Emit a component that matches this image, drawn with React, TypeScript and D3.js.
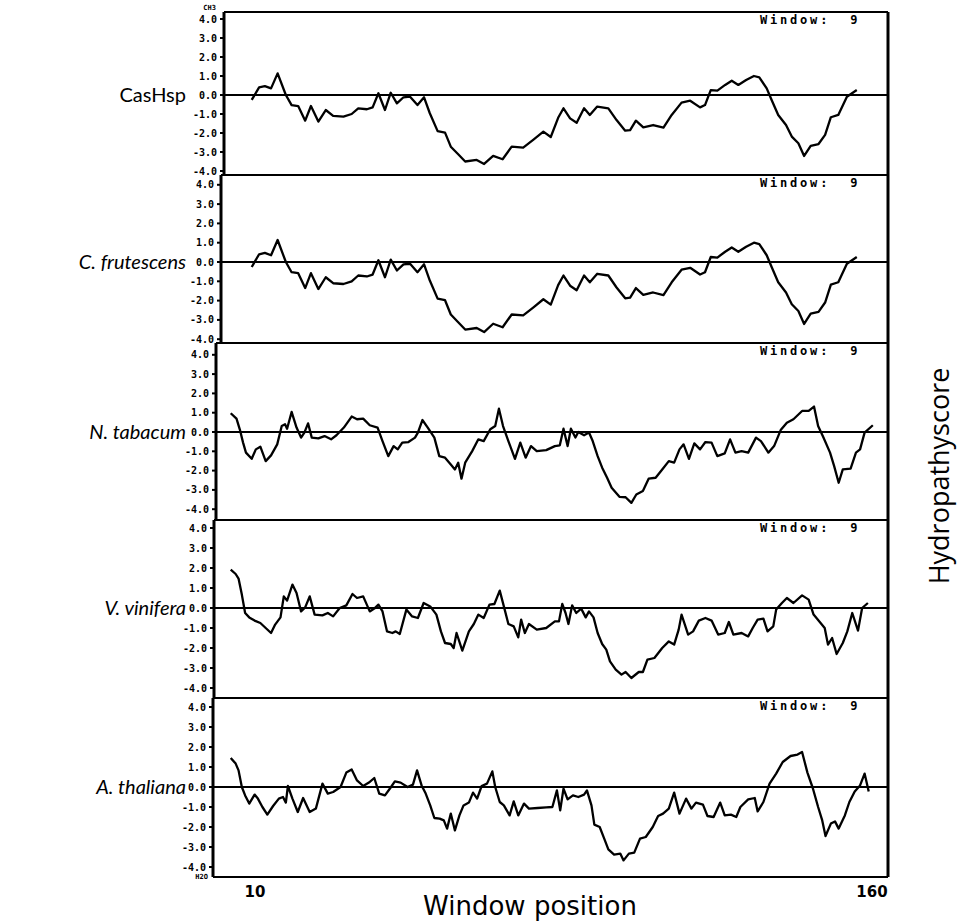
import React from 'react';
import * as d3 from 'd3';

type Pt = [number, number]; // [window position, hydropathy score]

// profiles, one vertex per visible corner of the trace
const casHsp: Pt[] = [
  [9.2, -0.26], [11.0, 0.4], [12.4, 0.47], [13.9, 0.35], [15.5, 1.14], [17.5, 0.0], [18.9, -0.53],
  [20.5, -0.58], [22.2, -1.35], [23.6, -0.58], [25.4, -1.4], [27.2, -0.79], [29.0, -1.1], [31.5, -1.14],
  [33.5, -1.0], [35.1, -0.7], [37.2, -0.75], [38.6, -0.65], [40.0, 0.09], [41.6, -0.79], [43.0, 0.12],
  [44.5, -0.44], [46.1, -0.12], [47.7, -0.09], [49.5, -0.53], [51.1, -0.12], [52.5, -0.96], [54.4, -1.9],
  [56.2, -1.98], [57.6, -2.72], [59.4, -3.12], [61.1, -3.5], [63.9, -3.42], [65.7, -3.63], [67.9, -3.2],
  [70.2, -3.38], [72.4, -2.72], [75.2, -2.77], [77.7, -2.35], [80.1, -1.93], [81.9, -2.21], [83.7, -1.2],
  [85.0, -0.7], [86.6, -1.23], [88.2, -1.46], [90.0, -0.7], [91.4, -1.05], [93.2, -0.61], [95.9, -0.7],
  [97.9, -1.32], [100.0, -1.88], [101.2, -1.85], [102.6, -1.35], [104.4, -1.7], [106.8, -1.58],
  [109.3, -1.72], [111.3, -1.05], [113.7, -0.4], [115.8, -0.3], [118.2, -0.65], [119.4, -0.53],
  [120.8, 0.26], [122.4, 0.23], [124.3, 0.53], [125.9, 0.75], [127.5, 0.53], [129.4, 0.79], [131.3, 1.0],
  [132.6, 0.93], [134.4, 0.35], [135.6, -0.26], [137.2, -1.05], [139.1, -1.58], [140.5, -2.19],
  [142.1, -2.54], [143.5, -3.21], [145.1, -2.68], [147.0, -2.58], [148.6, -2.1], [150.0, -1.17],
  [151.8, -1.05], [153.9, -0.09], [156.3, 0.26],
];

// the C. frutescens trace is the same as CasHsp in the figure
const frutescens: Pt[] = casHsp;

const tabacum: Pt[] = [
  [4.1, 0.97], [5.5, 0.69], [6.3, 0.14], [7.1, -0.55], [7.8, -1.07], [9.2, -1.39], [10.2, -0.9],
  [11.3, -0.76], [12.6, -1.51], [13.9, -1.21], [15.4, -0.64], [16.5, 0.31], [17.3, 0.4], [17.8, 0.17],
  [18.9, 1.04], [20.1, 0.23], [21.2, -0.29], [22.0, -0.03], [22.9, 0.45], [23.8, -0.29], [25.4, -0.33],
  [26.9, -0.21], [28.5, -0.38], [29.8, -0.17], [31.6, 0.23], [33.5, 0.8], [34.8, 0.66], [36.3, 0.69],
  [37.9, 0.35], [39.8, 0.23], [41.0, -0.47], [42.4, -1.25], [43.7, -0.73], [44.7, -0.9], [45.8, -0.55],
  [47.3, -0.52], [48.9, -0.29], [49.6, -0.03], [50.7, 0.62], [52.0, 0.23], [53.6, -0.29], [54.8, -1.25],
  [56.2, -1.33], [57.6, -1.68], [58.6, -1.94], [59.4, -1.59], [60.2, -2.42], [61.1, -1.59], [62.8, -0.99],
  [64.3, -0.38], [65.6, -0.47], [67.2, 0.14], [68.4, 0.31], [69.3, 1.21], [70.3, 0.31], [71.6, -0.47],
  [73.2, -1.39], [74.5, -0.55], [75.8, -1.33], [77.1, -0.73], [78.5, -0.99], [80.8, -0.94], [82.9, -0.73],
  [84.1, -0.69], [85.0, 0.17], [86.0, -0.73], [86.8, 0.17], [87.9, -0.29], [88.6, 0.0], [90.0, -0.17],
  [91.2, -0.03], [92.1, -0.47], [93.3, -1.25], [94.4, -1.85], [95.6, -2.37], [96.7, -2.89], [98.6, -3.36],
  [100.1, -3.38], [101.5, -3.67], [102.7, -3.24], [104.3, -3.06], [105.7, -2.42], [107.4, -2.37],
  [109.0, -1.94], [110.6, -1.51], [111.9, -1.59], [113.2, -0.9], [114.2, -0.64], [115.5, -1.39],
  [116.8, -0.59], [118.2, -0.9], [119.5, -0.52], [121.0, -0.55], [122.4, -1.25], [124.2, -1.11],
  [125.5, -0.38], [126.8, -1.07], [128.3, -0.99], [129.9, -1.07], [131.8, -0.29], [133.0, -0.47],
  [134.8, -1.07], [136.2, -0.73], [137.8, 0.1], [139.3, 0.48], [140.9, 0.66], [143.0, 1.09], [144.6, 1.09],
  [145.9, 1.32], [146.9, 0.31], [148.2, -0.29], [149.8, -1.07], [150.8, -1.77], [151.9, -2.63],
  [152.9, -1.94], [154.8, -1.9], [156.1, -1.07], [157.1, -0.9], [158.2, -0.03], [160.2, 0.35],
];

const vinifera: Pt[] = [
  [4.1, 1.92], [5.3, 1.7], [6.0, 1.47], [6.8, 0.67], [7.6, -0.25], [8.6, -0.47], [9.9, -0.63],
  [11.3, -0.75], [12.6, -1.0], [13.9, -1.25], [14.9, -0.83], [16.2, -0.47], [17.0, 0.58], [17.8, 0.37],
  [19.1, 1.17], [20.1, 0.75], [21.2, -0.17], [22.2, 0.03], [23.3, 0.58], [24.5, -0.33], [26.4, -0.37],
  [27.7, -0.25], [29.0, -0.42], [30.6, 0.0], [32.2, 0.13], [33.7, 0.7], [34.8, 0.5], [36.3, 0.58],
  [37.9, -0.17], [39.0, -0.03], [40.0, 0.17], [41.0, -0.17], [42.1, -1.17], [43.4, -1.25], [44.2, -1.17],
  [45.2, -1.3], [46.8, -0.08], [48.2, -0.42], [49.6, -0.5], [51.0, 0.25], [52.6, 0.08], [54.1, -0.33],
  [55.2, -1.17], [56.2, -1.75], [57.6, -1.8], [58.3, -2.0], [59.0, -1.25], [60.4, -2.13], [62.0, -1.17],
  [63.2, -0.8], [64.3, -0.33], [65.6, -0.5], [67.0, 0.17], [68.2, 0.2], [69.5, 0.87], [70.5, 0.08],
  [71.6, -0.8], [72.9, -0.92], [74.0, -1.47], [74.7, -0.58], [75.6, -1.25], [76.6, -0.8], [78.5, -1.08],
  [80.8, -1.0], [82.9, -0.67], [83.9, -0.67], [84.7, 0.2], [85.5, -0.25], [86.2, -0.8], [87.1, 0.13],
  [88.1, -0.25], [89.3, -0.03], [90.4, -0.47], [91.2, -0.17], [92.3, -0.47], [93.3, -1.25], [94.4, -1.8],
  [95.4, -2.08], [96.3, -2.67], [97.7, -3.08], [99.1, -3.33], [100.1, -3.2], [101.5, -3.5], [103.3, -3.2],
  [104.3, -3.2], [105.4, -2.58], [107.1, -2.5], [109.0, -2.0], [110.6, -1.67], [111.9, -1.83],
  [113.0, -1.08], [113.7, -0.33], [115.3, -1.33], [116.5, -1.17], [117.9, -0.63], [119.5, -0.5],
  [121.0, -0.63], [122.6, -1.33], [124.2, -1.25], [125.2, -0.7], [126.3, -1.33], [128.3, -1.25],
  [129.9, -1.42], [131.0, -1.0], [132.2, -0.58], [133.6, -0.53], [134.6, -1.17], [136.0, -0.92],
  [136.7, -0.08], [138.1, 0.25], [139.3, 0.5], [140.9, 0.25], [143.0, 0.63], [144.6, 0.42], [145.8, -0.33],
  [147.2, -0.67], [148.5, -1.0], [149.3, -1.83], [150.3, -1.5], [151.4, -2.3], [152.9, -1.75],
  [154.0, -1.17], [155.2, -0.25], [156.6, -1.13], [157.6, 0.0], [159.0, 0.25],
];

const thaliana: Pt[] = [
  [4.1, 1.45], [5.3, 1.17], [6.0, 0.83], [6.8, 0.0], [7.6, -0.42], [8.6, -0.83], [9.9, -0.38],
  [10.7, -0.58], [11.8, -1.0], [13.0, -1.38], [14.4, -0.95], [15.8, -0.58], [16.8, -0.5], [17.5, -0.78],
  [18.0, 0.05], [19.1, -0.58], [20.4, -1.25], [21.7, -0.55], [23.3, -1.25], [24.8, -1.08], [26.4, 0.17],
  [27.7, -0.33], [29.0, -0.25], [30.8, 0.0], [32.2, 0.72], [33.5, 0.88], [34.8, 0.33], [36.3, 0.05],
  [37.7, 0.22], [39.0, 0.45], [40.2, -0.33], [41.6, -0.42], [42.9, -0.05], [44.0, 0.28], [45.4, 0.22],
  [47.1, 0.0], [48.4, 0.12], [49.4, 0.83], [50.5, 0.08], [51.5, -0.33], [52.6, -0.92], [53.6, -1.55],
  [54.9, -1.58], [55.9, -1.67], [56.7, -2.08], [57.6, -1.33], [58.6, -2.17], [59.7, -1.42], [60.7, -0.92],
  [62.0, -0.78], [63.0, -0.28], [64.0, -0.58], [65.1, 0.05], [66.4, 0.17], [67.7, 0.78], [68.4, 0.0],
  [69.5, -0.75], [70.5, -0.92], [71.9, -1.42], [72.9, -0.72], [74.0, -1.42], [75.4, -0.83], [76.6, -1.08],
  [78.7, -1.05], [80.8, -1.02], [82.3, -1.0], [83.4, -0.17], [84.2, -1.17], [85.0, -0.08], [86.0, -0.62],
  [87.3, -0.42], [88.6, -0.5], [90.0, -0.38], [90.7, -0.17], [91.8, -0.92], [92.5, -1.88], [93.8, -2.0],
  [94.9, -2.58], [95.9, -3.12], [97.3, -3.38], [98.8, -3.33], [99.6, -3.67], [100.9, -3.33], [102.2, -3.28],
  [103.6, -2.58], [105.0, -2.5], [106.7, -2.0], [108.0, -1.45], [109.2, -1.33], [110.6, -1.08],
  [111.9, -0.28], [113.2, -1.33], [114.8, -0.58], [116.1, -1.08], [117.2, -0.78], [118.9, -0.88],
  [120.0, -1.45], [121.5, -1.5], [123.1, -0.78], [124.2, -1.42], [125.7, -1.38], [127.0, -1.5],
  [128.0, -1.0], [129.9, -0.62], [131.5, -0.55], [132.2, -1.22], [133.6, -0.75], [135.1, 0.17],
  [136.7, 0.67], [138.3, 1.25], [140.2, 1.55], [141.9, 1.62], [143.0, 1.75], [144.3, 0.72], [145.6, -0.05],
  [146.9, -1.0], [147.9, -1.67], [148.7, -2.45], [150.0, -1.83], [151.0, -1.72], [151.9, -2.08],
  [153.4, -1.42], [154.5, -0.75], [155.8, -0.22], [157.1, 0.08], [158.2, 0.67], [159.2, -0.22],
];

const speciesNames = ['CasHsp', 'C. frutescens', 'N. tabacum', 'V. vinifera', 'A. thaliana'];
const speciesItalic = [false, true, true, true, true];
const profiles = [casHsp, frutescens, tabacum, vinifera, thaliana];
const yTicks = [4, 3, 2, 1, 0, -1, -2, -3, -4];
const xTicks = [10, 160];

// panel frames (the scan is slightly skewed, so each panel has its own left edge)
const panels = [
  { top: 12, bottom: 175, zero: 95, unit: 19, left: 224 },
  { top: 175, bottom: 343, zero: 262, unit: 19.3, left: 221 },
  { top: 343, bottom: 520, zero: 432, unit: 19.3, left: 216 },
  { top: 520, bottom: 698, zero: 608, unit: 20, left: 214 },
  { top: 698, bottom: 877, zero: 787, unit: 20, left: 213 },
];
const RIGHT = 888;

const x = d3.scaleLinear().domain([10, 160]).range([255, 872]);

const App = () => {
  return (
    <svg width={959} height={921} style={{ position: 'absolute', left: 0, top: 0, background: '#fff' }}>
      {panels.map((p, i) => {
        const y = d3.scaleLinear().domain([-4, 4]).range([p.zero + 4 * p.unit, p.zero - 4 * p.unit]);
        const line = d3.line<Pt>().x(d => x(d[0])).y(d => y(d[1]));
        return (
          <g key={i}>
            <line x1={p.left} x2={RIGHT} y1={p.top} y2={p.top} stroke="#000" strokeWidth={2} />
            <line x1={p.left} x2={RIGHT} y1={p.bottom} y2={p.bottom} stroke="#000" strokeWidth={2} />
            <line x1={p.left} x2={p.left} y1={p.top} y2={p.bottom} stroke="#000" strokeWidth={3} />
            <line x1={RIGHT} x2={RIGHT} y1={p.top} y2={p.bottom} stroke="#000" strokeWidth={3} />
            <line x1={p.left} x2={RIGHT} y1={y(0)} y2={y(0)} stroke="#000" strokeWidth={2} />
            {yTicks.map(t => (
              <g key={t}>
                <line x1={p.left - 4} x2={p.left} y1={y(t)} y2={y(t)} stroke="#000" strokeWidth={2} />
                <text x={p.left - 7} y={y(t)} dy="0.35em" textAnchor="end"
                  fontFamily="DejaVu Sans Mono" fontWeight="bold" fontSize={10}>
                  {t.toFixed(1)}
                </text>
              </g>
            ))}
            <text x={760} y={p.top + 12} fontFamily="DejaVu Sans Mono" fontWeight="bold" fontSize={12}
              letterSpacing={2.8}>
              <tspan>Window:</tspan>
              <tspan dx={20}>9</tspan>
            </text>
            <path d={line(profiles[i]) ?? ''} fill="none" stroke="#000" strokeWidth={2.3}
              strokeLinejoin="round" />
            <text x={186} y={p.zero + 7} textAnchor="end" fontFamily="Lato"
              fontStyle={speciesItalic[i] ? 'italic' : 'normal'} fontSize={20}>
              {speciesNames[i]}
            </text>
          </g>
        );
      })}
      <text x={216} y={10} textAnchor="end" fontFamily="DejaVu Sans Mono" fontWeight="bold" fontSize={7}>CH3</text>
      <text x={208} y={879} textAnchor="end" fontFamily="DejaVu Sans Mono" fontWeight="bold" fontSize={7}>H2O</text>
      {xTicks.map(t => (
        <text key={t} x={x(t)} y={897} textAnchor="middle" fontFamily="DejaVu Sans" fontWeight="bold" fontSize={15}>
          {t}
        </text>
      ))}
      <text x={530} y={915} textAnchor="middle" fontFamily="DejaVu Sans" fontSize={26}>Window position</text>
      <text transform="translate(949,476) rotate(-90)" textAnchor="middle" fontFamily="Open Sans" fontSize={27}>
        Hydropathyscore
      </text>
    </svg>
  );
};

export default App;
